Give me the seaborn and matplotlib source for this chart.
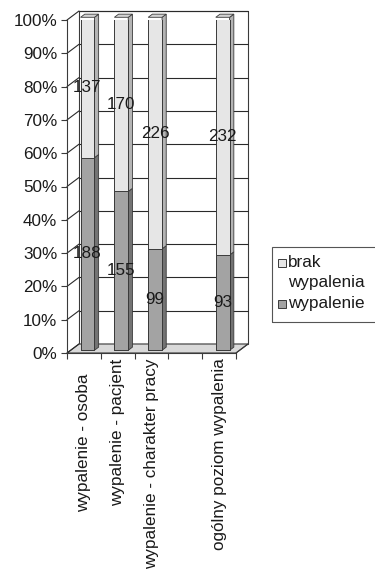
import numpy as np
import pandas as pd
import matplotlib
matplotlib.use("Agg")
import matplotlib.pyplot as plt
import seaborn as sns
from matplotlib.patches import Polygon, Rectangle
from matplotlib.ticker import FixedLocator
from matplotlib.transforms import ScaledTranslation

# --- data -------------------------------------------------------------
categories = ["wypalenie - osoba", "wypalenie - pacjent",
              "wypalenie - charakter pracy", "ogólny poziom wypalenia"]
wypalenie = [188, 155, 99, 93]
brak_wypalenia = [137, 170, 226, 232]
series_labels = ["brak\nwypalenia", "wypalenie"]
y_ticks = [0, 10, 20, 30, 40, 50, 60, 70, 80, 90, 100]
y_tick_labels = [f"{v}%" for v in y_ticks]

# an empty slot separates the summary column from the others
order = categories[:3] + [" "] + categories[3:]

wyp = np.array(wypalenie, dtype=float)
brak = np.array(brak_wypalenia, dtype=float)
total = wyp + brak
wyp_pct = wyp / total * 100
df = pd.DataFrame({"kategoria": categories,
                   "razem": np.full(len(categories), 100.0),
                   "wypalenie": wyp_pct})

# --- style --------------------------------------------------------------
sns.set_theme(style="white")
plt.rcParams["font.family"] = ["Liberation Sans", "DejaVu Sans"]
FS = 12.3
TXT = "#1a1a1a"
LIGHT, LIGHT_SIDE, LIGHT_TOP = "#e6e6e6", "#b4b4b4", "#d2d2d2"
DARK, DARK_SIDE = "#a3a3a3", "#737373"
EDGE = "#3a3a3a"

W, H = 375, 578
fig = plt.figure(figsize=(W / 100, H / 100), dpi=100)
ax = fig.add_axes([67 / W, (H - 353) / H, 169 / W, 333 / H])
ax.set_xlim(-0.5, 4.5)
ax.set_ylim(0, 100)

# pixel depth of the pseudo-3D box, converted to data units
DEPTH_PX = (12.0, 9.0)
ux = 169 / 5.0      # px per category
uy = 333 / 100.0    # px per percent
DX, DY = DEPTH_PX[0] / ux, DEPTH_PX[1] / uy
F0, F1 = 0.30, 0.65  # bar front / back depth fractions
BW = 0.41

# --- box: floor, back wall, side wall ----------------------------------
floor = Polygon([(-0.5, 0), (4.5, 0), (4.5 + DX, DY), (-0.5 + DX, DY)],
                closed=True, facecolor="#d9d9d9", edgecolor=EDGE, lw=0.8,
                zorder=0.5, clip_on=False)
ax.add_patch(floor)
wall = Rectangle((-0.5 + DX, DY), 5, 100, facecolor="white", edgecolor=EDGE,
                 lw=0.8, zorder=0.4, clip_on=False)
ax.add_patch(wall)
for v in y_ticks:
    if v > 0:
        ax.plot([-0.5 + DX, 4.5 + DX], [v + DY, v + DY], color="#2a2a2a",
                lw=0.8, zorder=0.6, clip_on=False)
    ax.plot([-0.5, -0.5 + DX], [v, v + DY], color="#2a2a2a", lw=0.8,
            zorder=0.6, clip_on=False)
ax.plot([4.5, 4.5 + DX], [0, DY], color=EDGE, lw=0.8, zorder=0.6,
        clip_on=False)

# --- bars (front faces) -------------------------------------------------
sns.barplot(data=df, x="kategoria", y="razem", order=order, color=LIGHT,
            saturation=1, width=BW, edgecolor=EDGE, linewidth=0.7,
            ax=ax, zorder=3)
sns.barplot(data=df, x="kategoria", y="wypalenie", order=order, color=DARK,
            saturation=1, width=BW, edgecolor=EDGE, linewidth=0.7,
            ax=ax, zorder=3.1)
ax.set_xlim(-0.5, 4.5)
ax.set_ylim(0, 100)

fx, fy = F0 * DX, F0 * DY
bx, by = F1 * DX, F1 * DY
for p in ax.patches:
    if isinstance(p, Rectangle) and p.get_zorder() >= 3:
        p.set_x(p.get_x() + fx)
        p.set_y(p.get_y() + fy)

# side and top faces
positions = [order.index(c) for c in categories]
for xi, pw in zip(positions, wyp_pct):
    r = xi + BW / 2
    l = xi - BW / 2
    for y0, y1, col in [(0, pw, DARK_SIDE), (pw, 100, LIGHT_SIDE)]:
        ax.add_patch(Polygon([(r + fx, y0 + fy), (r + bx, y0 + by),
                              (r + bx, y1 + by), (r + fx, y1 + fy)],
                             closed=True, facecolor=col, edgecolor=EDGE,
                             lw=0.6, zorder=2.9, clip_on=False))
    ax.add_patch(Polygon([(l + fx, 100 + fy), (r + fx, 100 + fy),
                          (r + bx, 100 + by), (l + bx, 100 + by)],
                         closed=True, facecolor=LIGHT_TOP, edgecolor=EDGE,
                         lw=0.6, zorder=2.9, clip_on=False))

# value labels
for xi, pw, nw, nb in zip(positions, wyp_pct, wypalenie, brak_wypalenia):
    ax.text(xi + fx, pw / 2 + fy, f"{nw}", ha="center", va="center",
            fontsize=FS, color=TXT, zorder=5)
    ax.text(xi + fx, (pw + 100) / 2 + fy, f"{nb}", ha="center",
            va="center", fontsize=FS, color=TXT, zorder=5)

# --- axes ------------------------------------------------------------
for s in ["top", "right"]:
    ax.spines[s].set_visible(False)
for s in ["left", "bottom"]:
    ax.spines[s].set_color(EDGE)
    ax.spines[s].set_linewidth(0.8)
    ax.spines[s].set_zorder(4)
ax.set_yticks(y_ticks)
ax.set_yticklabels(y_tick_labels, fontsize=FS, color=TXT)
ax.tick_params(axis="y", direction="out", length=4, width=0.8,
               color=EDGE, pad=3, left=True)
ax.set_xticks(range(len(order)))
ax.set_xticklabels(order, rotation=90, fontsize=FS, color=TXT)
ax.xaxis.set_minor_locator(FixedLocator(np.arange(-0.5, 5.0, 1.0)))
ax.tick_params(axis="x", which="major", length=0, pad=4)
ax.tick_params(axis="x", which="minor", direction="out", length=4,
               width=0.8, color=EDGE, bottom=True)
ax.set_xlabel("")
ax.set_ylabel("")
ax.grid(False)
ax.set_facecolor("none")

# the first category label sits a little lower than the rest
first = ax.get_xticklabels()[0]
first.set_transform(first.get_transform()
                    + ScaledTranslation(0, -0.15, fig.dpi_scale_trans))

# --- legend ---------------------------------------------------------
def fx_(px):
    return px / W


def fy_(py):
    return 1 - py / H


fig.add_artist(Rectangle((fx_(272), fy_(322)), 110 / W, 75 / H,
                         transform=fig.transFigure, fill=False,
                         edgecolor="#555555", lw=0.8))
for (py, col) in [(267, LIGHT), (308, DARK)]:
    fig.add_artist(Rectangle((fx_(278), fy_(py)), 8 / W, 8 / H,
                             transform=fig.transFigure, facecolor=col,
                             edgecolor=EDGE, lw=0.7))
fig.text(fx_(288), fy_(267), "brak", fontsize=FS, color=TXT, va="baseline")
fig.text(fx_(288), fy_(287), "wypalenia", fontsize=FS, color=TXT,
         va="baseline")
fig.text(fx_(288), fy_(308), series_labels[1], fontsize=FS, color=TXT,
         va="baseline")

fig.savefig("out.png", dpi=100)
